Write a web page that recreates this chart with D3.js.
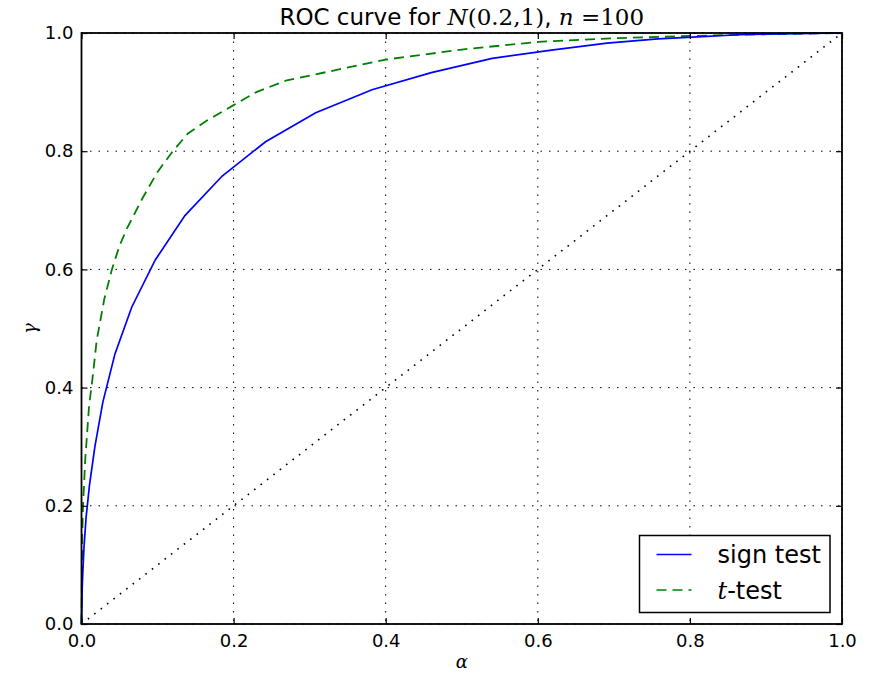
<!DOCTYPE html>
<html>
<head>
<meta charset="utf-8">
<script src="https://cdn.jsdelivr.net/npm/d3@7"></script>
<style>
  body { margin: 0; background: #fff; }
  text { font-family: "DejaVu Sans", sans-serif; fill: #000; }
  .math { font-family: "DejaVu Serif", serif; }
</style>
</head>
<body>
<div id="chart"></div>
<script>
var svgWidth = 877;
var svgHeight = 677;

var margin = { top: 33, right: 35, bottom: 53, left: 81.5 };
var width = svgWidth - margin.left - margin.right;
var height = svgHeight - margin.top - margin.bottom;

// sign test ROC points (alpha, gamma)
var signAlpha = [0, 0.0009, 0.0018, 0.0033, 0.006, 0.0105, 0.0176, 0.028, 0.044, 0.066, 0.097, 0.136,
  0.185, 0.242, 0.308, 0.382, 0.46, 0.54, 0.618, 0.691, 0.758, 0.816, 0.864, 0.903, 1];
var signGamma = [0, 0.06, 0.09, 0.13, 0.18, 0.235, 0.3, 0.375, 0.457, 0.536, 0.616, 0.691,
  0.758, 0.816, 0.865, 0.904, 0.933, 0.957, 0.971, 0.983, 0.99, 0.994, 0.997, 0.998, 1];

// t-test ROC points
var tAlpha = [0, 0.001, 0.002, 0.005, 0.01, 0.014, 0.02, 0.03, 0.04, 0.05, 0.06, 0.08, 0.1, 0.12,
  0.14, 0.165, 0.2, 0.23, 0.27, 0.3, 0.4, 0.5, 0.6, 0.7, 0.8, 0.9, 1];
var tGamma = [0, 0.15, 0.2, 0.28, 0.37, 0.41, 0.48, 0.55, 0.6, 0.64, 0.67, 0.72, 0.765, 0.8,
  0.83, 0.852, 0.878, 0.9, 0.92, 0.928, 0.955, 0.972, 0.985, 0.991, 0.995, 0.998, 1];

var diagonal = [0, 1];
var tickValues = [0, 0.2, 0.4, 0.6, 0.8, 1.0];

var svg = d3.select("#chart")
  .append("svg")
  .attr("width", svgWidth)
  .attr("height", svgHeight);

svg.append("rect").attr("width", svgWidth).attr("height", svgHeight).attr("fill", "#fff");

var chartGroup = svg.append("g")
  .attr("transform", `translate(${margin.left}, ${margin.top})`);

var xScale = d3.scaleLinear().domain([0, 1]).range([0, width]);
var yScale = d3.scaleLinear().domain([0, 1]).range([height, 0]);

// grid
chartGroup.selectAll(".vgrid")
  .data(tickValues)
  .enter()
  .append("line")
  .attr("x1", d => xScale(d)).attr("x2", d => xScale(d))
  .attr("y1", 0).attr("y2", height)
  .attr("stroke", "#000")
  .attr("stroke-width", 1)
  .attr("stroke-dasharray", "1.5,7");

chartGroup.selectAll(".hgrid")
  .data(tickValues)
  .enter()
  .append("line")
  .attr("y1", d => yScale(d)).attr("y2", d => yScale(d))
  .attr("x1", 0).attr("x2", width)
  .attr("stroke", "#000")
  .attr("stroke-width", 1)
  .attr("stroke-dasharray", "1.5,7");

// diagonal
chartGroup.append("line")
  .attr("x1", xScale(diagonal[0])).attr("y1", yScale(diagonal[0]))
  .attr("x2", xScale(diagonal[1])).attr("y2", yScale(diagonal[1]))
  .attr("stroke", "#000")
  .attr("stroke-width", 1.6)
  .attr("stroke-dasharray", "1.6,6.5");

var line = d3.line()
  .x(d => xScale(d[0]))
  .y(d => yScale(d[1]));

var signData = signAlpha.map((a, i) => [a, signGamma[i]]);
var tData = tAlpha.map((a, i) => [a, tGamma[i]]);

chartGroup.append("path")
  .datum(tData)
  .attr("d", line)
  .attr("fill", "none")
  .attr("stroke", "#008000")
  .attr("stroke-width", 1.8)
  .attr("stroke-dasharray", "10,6");

chartGroup.append("path")
  .datum(signData)
  .attr("d", line)
  .attr("fill", "none")
  .attr("stroke", "#0000ff")
  .attr("stroke-width", 1.7);

// axes (inward ticks on all sides)
var fmt = d3.format(".1f");
var bottomAxis = d3.axisBottom(xScale).tickValues(tickValues).tickFormat(fmt).tickSizeInner(-6).tickSizeOuter(0).tickPadding(10);
var leftAxis = d3.axisLeft(yScale).tickValues(tickValues).tickFormat(fmt).tickSizeInner(-6).tickSizeOuter(0).tickPadding(8);
var topAxis = d3.axisTop(xScale).tickValues(tickValues).tickFormat("").tickSizeInner(-6).tickSizeOuter(0);
var rightAxis = d3.axisRight(yScale).tickValues(tickValues).tickFormat("").tickSizeInner(-6).tickSizeOuter(0);

var xAxis = chartGroup.append("g").attr("transform", `translate(0, ${height})`).call(bottomAxis);
var yAxis = chartGroup.append("g").call(leftAxis);
chartGroup.append("g").call(topAxis);
chartGroup.append("g").attr("transform", `translate(${width}, 0)`).call(rightAxis);

chartGroup.selectAll(".domain").remove();
chartGroup.selectAll(".tick line").attr("stroke", "#000").attr("stroke-width", 1.2);
chartGroup.selectAll(".tick text")
  .style("font-family", "'DejaVu Sans', sans-serif")
  .style("font-size", "18px")
  .attr("fill", "#000");

// frame
chartGroup.append("rect")
  .attr("width", width).attr("height", height)
  .attr("fill", "none")
  .attr("stroke", "#000")
  .attr("stroke-width", 1.8);

// title
var title = svg.append("text")
  .attr("x", margin.left + width / 2)
  .attr("y", 25)
  .attr("text-anchor", "middle")
  .style("font-size", "23px");
title.append("tspan").text("ROC curve for ");
title.append("tspan").attr("class", "math").style("font-style", "italic").text("N");
title.append("tspan").attr("class", "math").text("(0.2,1)");
title.append("tspan").text(", ");
title.append("tspan").attr("class", "math").style("font-style", "italic").text("n");
title.append("tspan").attr("class", "math").text(" =100");

// axis labels
svg.append("text")
  .attr("class", "math")
  .attr("x", margin.left + width / 2)
  .attr("y", 668)
  .attr("text-anchor", "middle")
  .style("font-size", "18px")
  .style("font-style", "italic")
  .text("α");

svg.append("text")
  .attr("class", "math")
  .attr("transform", `translate(36, ${margin.top + height / 2}) rotate(-90)`)
  .attr("text-anchor", "middle")
  .style("font-size", "18px")
  .style("font-style", "italic")
  .text("γ");

// legend
var legend = svg.append("g").attr("transform", "translate(639.5, 535.5)");
legend.append("rect")
  .attr("width", 190.5).attr("height", 77)
  .attr("fill", "#fff")
  .attr("stroke", "#000")
  .attr("stroke-width", 1.5);

var legendItems = [
  { color: "#0000ff", dash: null, y: 19 },
  { color: "#008000", dash: "10,6", y: 54.5 }
];
legend.selectAll(".lg")
  .data(legendItems)
  .enter()
  .append("line")
  .attr("x1", 17).attr("x2", 52)
  .attr("y1", d => d.y).attr("y2", d => d.y)
  .attr("stroke", d => d.color)
  .attr("stroke-width", 1.7)
  .attr("stroke-dasharray", d => d.dash);

legend.append("text")
  .attr("x", 78).attr("y", 27.5)
  .style("font-size", "24px")
  .text("sign test");

var lt = legend.append("text")
  .attr("x", 78).attr("y", 63)
  .style("font-size", "24px");
lt.append("tspan").attr("class", "math").style("font-style", "italic").text("t");
lt.append("tspan").text("-test");
</script>
</body>
</html>
